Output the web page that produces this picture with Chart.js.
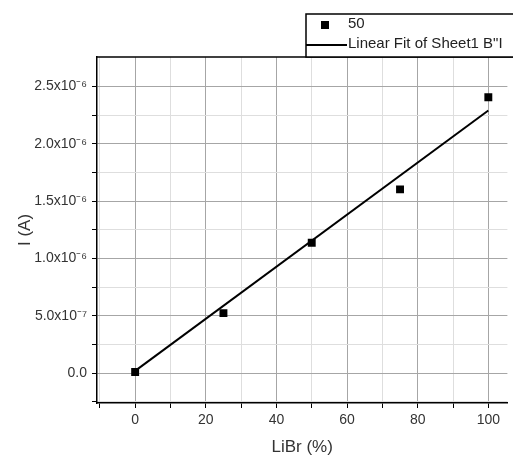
<!DOCTYPE html>
<html>
<head>
<meta charset="utf-8">
<script src="https://cdn.jsdelivr.net/npm/chart.js@4"></script>
<style>
  body { margin: 0; background: #fff; }
  #wrap { width: 513px; height: 456px; }
</style>
</head>
<body>
<div id="wrap"><canvas id="chart" width="513" height="456"></canvas></div>
<script>
// data
const libr = [0, 25, 50, 75, 100];
const current = [0.01e-6, 0.524e-6, 1.137e-6, 1.603e-6, 2.406e-6];
const fitX = [0, 100];
const fitY = [0.02e-6, 2.29e-6];

const xMin = -10.8;
const xMax = 105.4;
const xMajor = [0, 20, 40, 60, 80, 100];
const xMinor = [-10, 10, 30, 50, 70, 90];
const yMajor = [0, 5e-7, 1e-6, 1.5e-6, 2e-6, 2.5e-6];
const yMinor = [-2.5e-7, 2.5e-7, 7.5e-7, 1.25e-6, 1.75e-6, 2.25e-6];
const yTickLabels = ["0.0", "5.0x10⁻⁷", "1.0x10⁻⁶", "1.5x10⁻⁶", "2.0x10⁻⁶", "2.5x10⁻⁶"];

const seriesName = "50";
const fitName = "Linear Fit of Sheet1 B\"I";

const fontFamily = "'Liberation Sans', Arial, sans-serif";

function inList(list, v) {
  return list.some(m => Math.abs(m - v) < 1e-12);
}

// frame on top + legend box
const framePlugin = {
  id: "frame",
  afterDraw(chart) {
    const ctx = chart.ctx;
    const a = chart.chartArea;
    ctx.save();
    ctx.strokeStyle = "#000";
    ctx.lineWidth = 1.5;
    ctx.beginPath();
    ctx.moveTo(a.left, a.top);
    ctx.lineTo(chart.width, a.top);
    ctx.stroke();

    // legend
    const lx = 306, ly = 14, lw = 230, lh = a.top - ly;
    ctx.fillStyle = "#fff";
    ctx.fillRect(lx, ly, lw, lh);
    ctx.lineWidth = 1.5;
    ctx.strokeRect(lx, ly, lw, lh);

    ctx.fillStyle = "#000";
    ctx.fillRect(325 - 4, 25 - 4, 8, 8);
    ctx.beginPath();
    ctx.lineWidth = 2;
    ctx.moveTo(lx, 45);
    ctx.lineTo(347, 45);
    ctx.stroke();

    ctx.font = "15px " + fontFamily;
    ctx.textBaseline = "middle";
    ctx.textAlign = "left";
    ctx.fillStyle = "#222";
    ctx.fillText(chart.data.datasets[0].label, 348, 24);
    ctx.fillText(chart.data.datasets[1].label, 348, 44);
    ctx.restore();
  }
};

new Chart(document.getElementById("chart"), {
  type: "scatter",
  data: {
    datasets: [
      {
        label: seriesName,
        data: libr.map((x, i) => ({ x: x, y: current[i] })),
        pointStyle: "rect",
        pointRadius: 5.6,
        backgroundColor: "#000",
        borderColor: "#000",
        borderWidth: 0,
        showLine: false,
        order: 1
      },
      {
        label: fitName,
        data: fitX.map((x, i) => ({ x: x, y: fitY[i] })),
        showLine: true,
        borderColor: "#000",
        borderWidth: 2,
        pointRadius: 0,
        order: 2
      }
    ]
  },
  options: {
    responsive: false,
    animation: false,
    layout: { padding: { top: 57, left: 0, right: 0, bottom: 0 } },
    plugins: {
      legend: { display: false },
      tooltip: { enabled: false }
    },
    scales: {
      x: {
        type: "linear",
        min: xMin,
        max: xMax,
        afterFit(scale) { scale.height = 53; },
        afterBuildTicks(scale) {
          scale.ticks = xMinor.concat(xMajor, [xMax]).sort((a, b) => a - b).map(v => ({ value: v }));
        },
        border: { color: "#000", width: 1.5 },
        grid: {
          color: ctx => inList(xMajor, ctx.tick.value) ? "#a6a6a6" : (inList(xMinor, ctx.tick.value) ? "#dedede" : "rgba(0,0,0,0)"),
          lineWidth: 1,
          tickLength: 5,
          tickColor: ctx => (ctx.tick && ctx.tick.value === xMax) ? "rgba(0,0,0,0)" : "#000",
          tickWidth: 1
        },
        ticks: {
          autoSkip: false,
          maxRotation: 0,
          padding: 4,
          color: "#333",
          font: { family: fontFamily, size: 14 },
          callback: v => inList(xMajor, v) ? String(v) : ""
        },
        title: {
          display: true,
          text: "LiBr (%)",
          color: "#333",
          font: { family: fontFamily, size: 17, lineHeight: 1 },
          padding: { top: 0, bottom: 0 }
        }
      },
      y: {
        type: "linear",
        min: -2.6e-7,
        max: 2.757e-6,
        afterFit(scale) { scale.width = 97; },
        afterBuildTicks(scale) {
          scale.ticks = yMinor.concat(yMajor).sort((a, b) => a - b).map(v => ({ value: v }));
        },
        border: { color: "#000", width: 1.5 },
        grid: {
          color: ctx => inList(yMajor, ctx.tick.value) ? "#a6a6a6" : "#dedede",
          lineWidth: 1,
          tickLength: 5,
          tickColor: "#000",
          tickWidth: 1
        },
        ticks: {
          autoSkip: false,
          padding: 5,
          color: "#333",
          font: { family: fontFamily, size: 14 },
          callback: v => {
            const i = yMajor.findIndex(m => Math.abs(m - v) < 1e-12);
            return i >= 0 ? yTickLabels[i] : "";
          }
        },
        title: {
          display: true,
          text: "I (A)",
          color: "#333",
          font: { family: fontFamily, size: 17, lineHeight: 1.2 },
          padding: { top: 15, bottom: 0 }
        }
      }
    }
  },
  plugins: [framePlugin]
});
</script>
</body>
</html>
